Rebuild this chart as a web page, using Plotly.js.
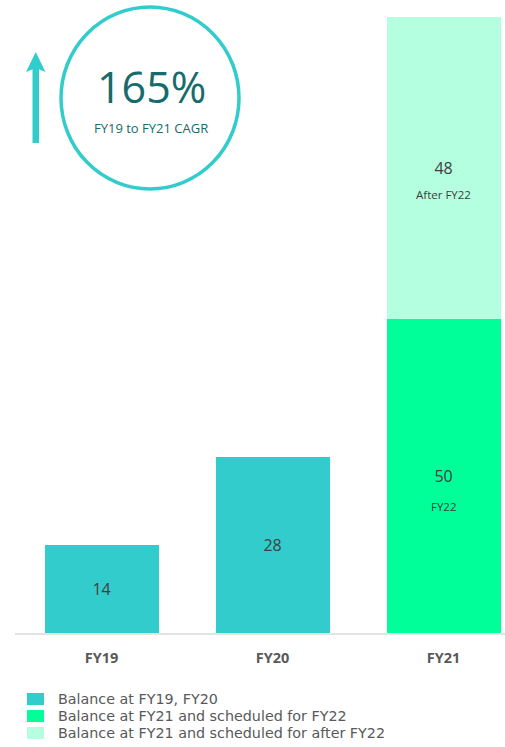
<!DOCTYPE html>
<html>
<head>
<meta charset="utf-8">
<script src="https://cdn.plot.ly/plotly-3.0.1.min.js"></script>
<style>html,body{margin:0;padding:0;background:#fff;}#chart{width:505px;height:747px;}</style>
</head>
<body>
<div id="chart"></div>
<script>
// ---- data ----
var categories = ['FY19', 'FY20', 'FY21'];
var seriesNames = [
  'Balance at FY19, FY20',
  'Balance at FY21 and scheduled for FY22',
  'Balance at FY21 and scheduled for after FY22'
];
var balanceFY19FY20 = [14, 28, null];
var scheduledFY22 = [null, null, 50];
var scheduledAfterFY22 = [null, null, 48];
var subLabels = ['FY22', 'After FY22'];
var cagrValue = '165%';
var cagrLabel = 'FY19 to FY21 CAGR';
var colors = ['#33CCCC', '#00FF99', '#B3FFDF'];

// ---- layout geometry (pixels) ----
var W = 505, H = 747;
var mL = 15, mR = 0, mT = 0, mB = 114;
var plotW = W - mL - mR, plotH = H - mT - mB;
function px(x) { return (x - mL) / plotW; }
function py(y) { return (H - mB - y) / plotH; }

var textFont = {family: 'Open Sans, sans-serif', size: 16, color: '#404040'};

function barTrace(name, vals, color) {
  return {
    type: 'bar', name: name, x: categories, y: vals,
    marker: {color: color, line: {width: 0}},
    text: vals.map(function (v) { return v == null ? '' : String(v); }),
    textposition: 'inside', insidetextanchor: 'middle',
    textfont: textFont, textangle: 0,
    hoverinfo: 'x+y+name', showlegend: false
  };
}

var data = [
  barTrace(seriesNames[0], balanceFY19FY20, colors[0]),
  barTrace(seriesNames[1], scheduledFY22, colors[1]),
  barTrace(seriesNames[2], scheduledAfterFY22, colors[2])
];

// sub labels inside FY21 stacked bars (positioned from data)
var annotations = [];
var fy22Mid = scheduledFY22[2] / 2;
var afterMid = scheduledFY22[2] + scheduledAfterFY22[2] / 2;
annotations.push({x: categories[2], y: fy22Mid, xref: 'x', yref: 'y', text: subLabels[0],
  showarrow: false, yshift: -31, font: {family: 'Open Sans, sans-serif', size: 11.5, color: '#404040'}});
annotations.push({x: categories[2], y: afterMid, xref: 'x', yref: 'y', text: subLabels[1],
  showarrow: false, yshift: -27, font: {family: 'Open Sans, sans-serif', size: 11.5, color: '#404040'}});

// CAGR callout
annotations.push({x: px(151), y: py(87), xref: 'paper', yref: 'paper', text: cagrValue,
  showarrow: false, xanchor: 'center', yanchor: 'middle',
  font: {family: 'Open Sans, sans-serif', size: 43, color: '#176B6B'}});
annotations.push({x: px(151), y: py(128), xref: 'paper', yref: 'paper', text: cagrLabel,
  showarrow: false, xanchor: 'center', yanchor: 'middle',
  font: {family: 'Open Sans, sans-serif', size: 13, color: '#176B6B'}});

// manual legend
var shapes = [];
var legendY = [699, 716, 733];
for (var i = 0; i < seriesNames.length; i++) {
  shapes.push({type: 'rect', xref: 'paper', yref: 'paper',
    x0: px(27), x1: px(44), y0: py(legendY[i] + 6), y1: py(legendY[i] - 6),
    fillcolor: colors[i], line: {width: 0}});
  annotations.push({x: px(57), y: py(legendY[i]), xref: 'paper', yref: 'paper',
    text: seriesNames[i], showarrow: false, xanchor: 'left', yanchor: 'middle',
    borderpad: 0,
    font: {family: 'DejaVu Sans, sans-serif', size: 14.3, color: '#595959'}});
}

// circle
shapes.push({type: 'circle', xref: 'paper', yref: 'paper',
  x0: px(61), x1: px(239), y0: py(189), y1: py(7),
  line: {color: '#33CCCC', width: 3.5}, fillcolor: 'rgba(0,0,0,0)'});
// arrow shaft and head
shapes.push({type: 'rect', xref: 'paper', yref: 'paper',
  x0: px(32.5), x1: px(39), y0: py(143), y1: py(68),
  fillcolor: '#33CCCC', line: {width: 0}});
shapes.push({type: 'path', xref: 'paper', yref: 'paper',
  path: 'M ' + px(26) + ' ' + py(72) + ' L ' + px(35.75) + ' ' + py(52) + ' L ' + px(45.5) + ' ' + py(72) + ' L ' + px(35.75) + ' ' + py(68) + ' Z',
  fillcolor: '#33CCCC', line: {width: 0}});

var layout = {
  width: W, height: H,
  margin: {l: mL, r: mR, t: mT, b: mB, pad: 0},
  paper_bgcolor: '#ffffff', plot_bgcolor: '#ffffff',
  barmode: 'stack', bargap: 0.333,
  showlegend: false,
  xaxis: {
    type: 'category', range: [-0.506, 2.359], fixedrange: true,
    showline: true, linecolor: '#E3E3E3', linewidth: 2,
    showgrid: false, zeroline: false, ticks: '', ticklabelstandoff: 11,
    tickfont: {family: 'Open Sans, sans-serif', size: 14.5, color: '#595959', weight: 'bold'}
  },
  yaxis: {
    range: [0, 100.7], visible: false, showgrid: false, zeroline: false, fixedrange: true
  },
  annotations: annotations,
  shapes: shapes,
  uniformtext: {mode: false}
};

Plotly.newPlot('chart', data, layout, {displayModeBar: false, staticPlot: true});
</script>
</body>
</html>
